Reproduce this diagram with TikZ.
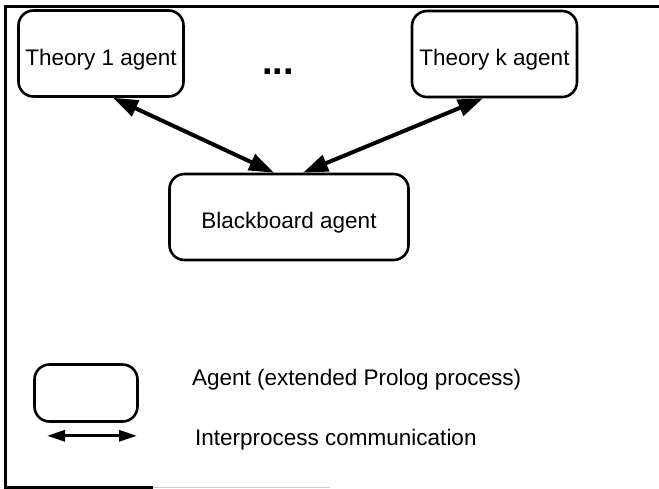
\documentclass[tikz,border=0pt]{standalone}
\usepackage{fontspec}
\setmainfont{Liberation Sans}
\usetikzlibrary{arrows.meta}

\begin{document}
\begin{tikzpicture}[x=1pt,y=-1pt,
    font=\fontsize{22.5}{27}\selectfont,
    agent/.style={draw,line width=2.6pt,rounded corners=15pt,inner sep=0pt,
      minimum width=165pt,minimum height=86pt,text height=23pt,text depth=0pt},
    ipc/.style={{Triangle[length=25pt,width=17pt]}-{Triangle[length=25pt,width=17pt]},
      line width=4pt},
    keyipc/.style={{Triangle[length=18pt,width=11pt]}-{Triangle[length=18pt,width=11pt]},
      line width=3pt},
    keytext/.style={anchor=base west,inner sep=0pt}]
  \useasboundingbox (0,0) rectangle (659,488);
  \draw[line width=3pt] (659,6) -- (5,6) -- (5,487) -- (153,487);
  \draw[gray!40,line width=1pt] (153,487) -- (330,487);

  \node (t1) [agent] at (101,53.5) {Theory 1 agent};
  \node (tk) [agent] at (494.5,54) {Theory k agent};
  \node (dots) [anchor=base,font=\fontsize{38}{38}\selectfont\bfseries] at (278,74) {...};
  \node (bb) [agent,minimum width=239pt] at (289,217) {Blackboard agent};

  \path (node cs:name=t1,anchor=south) +(12,0) coordinate (t1o);
  \path (node cs:name=bb,anchor=north) +(-15,0) coordinate (bbl);
  \draw[ipc] (t1o) -- (bbl);
  \path (node cs:name=bb,anchor=north) +(14,0) coordinate (bbr);
  \path (node cs:name=tk,anchor=south) +(-11.5,0) coordinate (tki);
  \draw[ipc] (bbr) -- (tki);

  % legend
  \node (key) [agent,minimum width=103pt,minimum height=57pt] at (86,393) {};
  \path (node cs:name=key,anchor=south) +(-39,13) coordinate (keyl);
  \path (node cs:name=key,anchor=south) +(51,13) coordinate (keyr);
  \draw[keyipc] (keyl) -- (keyr);
  \node (keyagent) [keytext] at (192,385) {Agent (extended Prolog process)};
  \node (keycomm) [keytext] at (195,445) {Interprocess communication};
\end{tikzpicture}
\end{document}
